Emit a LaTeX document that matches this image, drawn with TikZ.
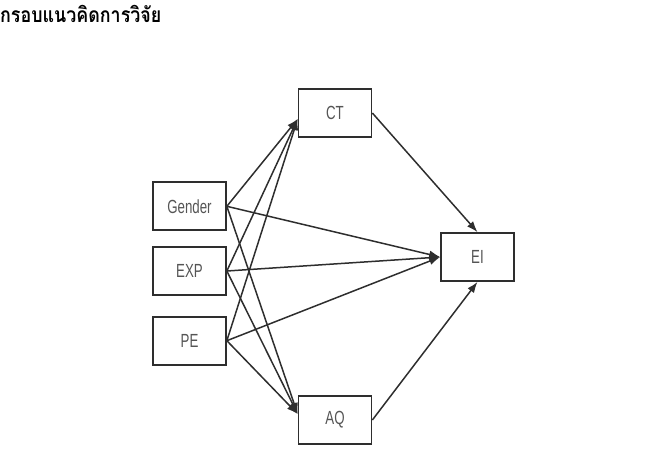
\documentclass[tikz,border=0pt]{standalone}
\usepackage{fontspec}
\usetikzlibrary{positioning,arrows.meta}
\newfontfamily\thaifont[Script=Thai,FakeStretch=0.85]{Loma}
\newfontfamily\narrowfont[FakeStretch=0.7]{Liberation Sans}
\definecolor{boxline}{HTML}{2E2E2E}
\definecolor{boxtext}{HTML}{555555}

\begin{document}
\begin{tikzpicture}[x=1pt,y=-1pt,
    var/.style={draw=boxline, line width=1.7pt, minimum width=73pt, minimum height=48pt,
      inner sep=0pt, text=boxtext, font=\narrowfont\fontsize{19}{19}\selectfont},
    path/.style={draw=boxline, line width=1.5pt, -{Latex[length=11pt,width=8pt]}}]
  \useasboundingbox (0,0) rectangle (650,450);
  \node [anchor=north west, inner sep=0pt] (title) at (0,5)
    {\thaifont\bfseries\fontsize{21}{21}\selectfont กรอบแนวคิดการวิจัย};
  \node [var] (exp) at (189.5,271) {EXP};
  \node [var, above=15pt of exp] (gender) {Gender};
  \node [var, below=20pt of exp] (pe) {PE};
  \node [var] (ct) at (335,113) {CT};
  \node [var] (aq) at (335,420) {AQ};
  \node [var] (ei) at (477.5,257) {EI};
  \coordinate (ctin) at ([yshift=-6pt]ct.west);
  \coordinate (aqin) at ([yshift=6pt]aq.west);
  \foreach \src in {gender,exp,pe}{
    \draw [path] (\src.east) -- (ctin);
    \draw [path] (\src.east) -- (aqin);
    \draw [path] (\src.east) -- (ei.west);
  }
  \draw [path] (ct.east) -- (ei.north);
  \draw [path] (aq.east) -- (ei.south);
\end{tikzpicture}
\end{document}
